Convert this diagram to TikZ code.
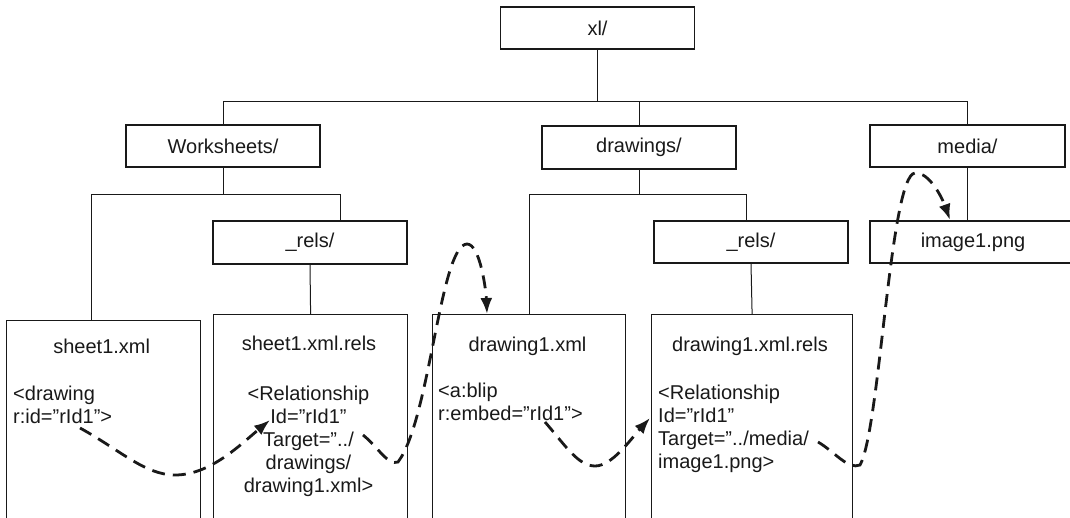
\documentclass[tikz,border=0pt]{standalone}
\usepackage{fontspec}
\setmainfont{Liberation Sans}
\usetikzlibrary{arrows.meta}
\newcommand\qt{\char34\relax}
\begin{document}
\begin{tikzpicture}[x=1pt,y=-1pt,
  dirbox/.style={draw=black!90,line width=1.2pt,minimum width=194pt,minimum height=42pt,inner sep=0pt,font=\fontsize{20}{23}\selectfont,text=black!90},
  filebox/.style={draw=black!90,line width=1.2pt,inner sep=0pt,anchor=north west,minimum height=240pt},
  txt/.style={inner sep=0pt,font=\fontsize{20}{23}\selectfont,text=black!90},
  tree/.style={line width=1pt,draw=black!90},
  refarrow/.style={draw=black!90,line width=2.8pt,dash pattern=on 13pt off 8pt,-{Latex[length=16pt,width=12pt]}}
]
\useasboundingbox (0,0) rectangle (1070,517);
\clip (0,0) rectangle (1070,517);

% directory boxes
\node[dirbox] (xl) at (597.5,28) {xl/};
\node[dirbox] (ws) at (223,146) {Worksheets/};
\node[dirbox,minimum height=43pt] (rels1) at (310,242.5) {\_rels/};
\node[dirbox,minimum height=43pt] (dr) at (639,147.5) {drawings/};
\node[dirbox] (rels2) at (751,242) {\_rels/};
\node[dirbox,minimum width=195pt] (media) at (967.5,146) {media/};
\node[dirbox,minimum width=206pt] (img) at (973,242) {image1.png};

% file boxes
\node[filebox,minimum width=194pt] (s1) at (6,320) {};
\node[filebox,minimum width=194pt] (s1rels) at (213,314) {};
\node[filebox,minimum width=193pt] (d1) at (432,314) {};
\node[filebox,minimum width=201pt] (d1rels) at (651,314) {};

% file titles
\node[txt,anchor=base] (s1t) at (101.7,353) {sheet1.xml};
\node[txt,anchor=base] (s1relst) at (309,350) {sheet1.xml.rels};
\node[txt,anchor=base] (d1t) at (527.5,351) {drawing1.xml};
\node[txt,anchor=base] (d1relst) at (750,351) {drawing1.xml.rels};

% file contents (anchor base = baseline of last line)
\node[txt,anchor=base west,align=left] (s1c) at (13,423) {<drawing\\r:id=\qt rId1\qt>};
\node[txt,anchor=base,align=center] (s1relsc) at (308.5,492) {<Relationship\\Id=\qt rId1\qt\\Target=\qt../\\drawings/\\drawing1.xml>};
\node[txt,anchor=base west,align=left] (d1c) at (438,420) {<a:blip\\r:embed=\qt rId1\qt>};
\node[txt,anchor=base west,align=left] (d1relsc) at (658,468) {<Relationship\\Id=\qt rId1\qt\\Target=\qt../media/\\image1.png>};

% tree connectors
\coordinate (bus1) at (0,101);
\coordinate (bus2) at (0,194);
\draw[tree] (xl.south) -- (xl.south |- bus1);
\draw[tree] (ws.north) -- (ws.north |- bus1) -- (media.north |- bus1) -- (media.north);
\draw[tree] (dr.north) -- (dr.north |- bus1);
\draw[tree] (ws.south) -- (ws.south |- bus2);
\draw[tree] ([xshift=-12pt]s1.north) -- ([xshift=-12pt]s1.north |- bus2) -- ([xshift=30pt]rels1.north |- bus2) -- ([xshift=30pt]rels1.north);
\draw[tree] (rels1.south) -- (s1rels.north);
\draw[tree] (dr.south) -- (dr.south |- bus2);
\draw[tree] (d1.north) -- (d1.north |- bus2) -- ([xshift=-5pt]rels2.north |- bus2) -- ([xshift=-5pt]rels2.north);
\draw[tree] (rels2.south) -- (d1rels.north);
\draw[tree] (media.south) -- (media.south |- img.north);

% reference arrows
\coordinate (r1s) at (80,428);
\coordinate (r1e) at (270,420);
\coordinate (r2s) at (363,435);
\coordinate (r2e) at (487,314);
\coordinate (r3s) at (545,422);
\coordinate (r3e) at (650,418);
\coordinate (r4s) at (818,442);
\coordinate (r4e) at (950,220);
\draw[refarrow] (r1s) .. controls (120,450) and (145,475) .. (175,475) .. controls (210,475) and (240,445) .. (r1e);
\draw[refarrow] (r2s) .. controls (378,447) and (388,466) .. (398,462) .. controls (430,420) and (440,245) .. (467,244) .. controls (480,244) and (486,290) .. (r2e);
\draw[refarrow] (r3s) .. controls (565,445) and (578,466) .. (595,466) .. controls (612,466) and (630,440) .. (r3e);
\draw[refarrow] (r4s) .. controls (835,452) and (848,470) .. (860,465) .. controls (880,430) and (890,175) .. (915,173) .. controls (930,172) and (943,200) .. (r4e);
\end{tikzpicture}
\end{document}
